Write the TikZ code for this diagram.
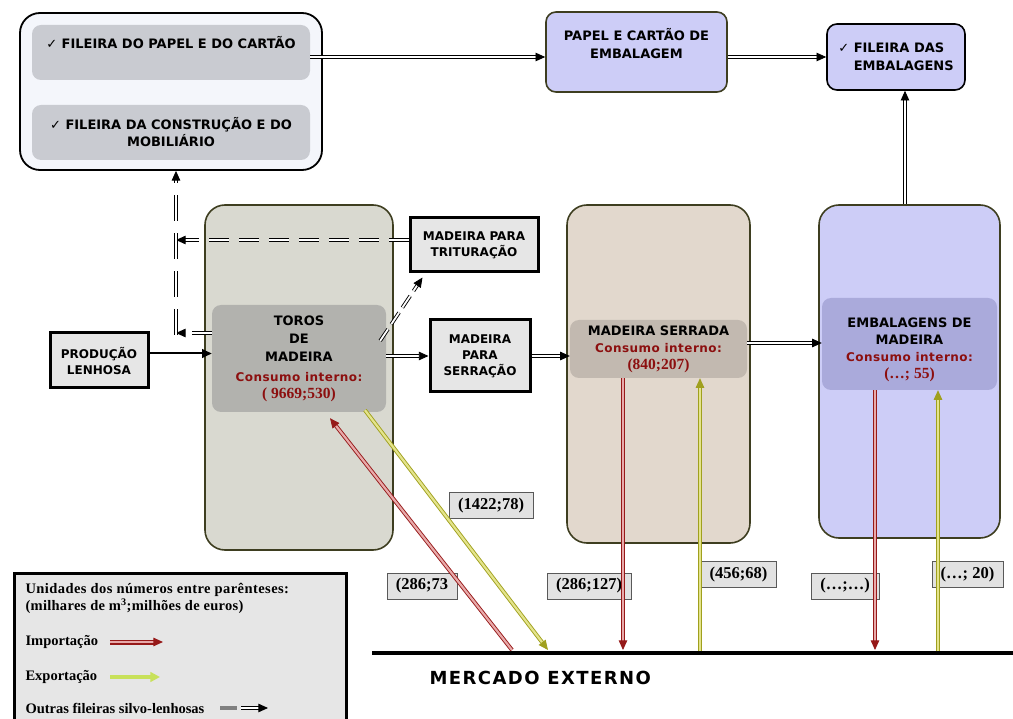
\documentclass[tikz,border=0pt]{standalone}
\usepackage{fontspec}
\setmainfont{Liberation Serif}
\setsansfont{DejaVu Sans}
\newfontfamily\chkfont{DejaVu Sans}
\usetikzlibrary{arrows.meta,positioning}
\definecolor{olivedark}{RGB}{62,62,32}
\definecolor{torosfill}{RGB}{217,217,208}
\definecolor{torosin}{RGB}{178,178,174}
\definecolor{serfill}{RGB}{226,216,205}
\definecolor{serin}{RGB}{194,185,176}
\definecolor{embfill}{RGB}{205,205,247}
\definecolor{embin}{RGB}{170,170,219}
\definecolor{filfill}{RGB}{244,246,251}
\definecolor{filin}{RGB}{201,203,209}
\definecolor{boxgray}{RGB}{230,230,230}
\definecolor{numgray}{RGB}{226,226,226}
\definecolor{impred}{RGB}{150,25,25}
\definecolor{imppink}{RGB}{232,170,170}
\definecolor{expol}{RGB}{160,160,30}
\definecolor{expyel}{RGB}{228,228,140}
\definecolor{explime}{RGB}{200,225,90}
\definecolor{expgreen}{RGB}{150,200,40}
\definecolor{txtred}{RGB}{140,15,15}
\newcommand{\chkmark}{{\chkfont\mdseries ✓}}
\newcommand{\consumo}{{\color{txtred}\fontsize{12}{16}\selectfont\addfontfeature{LetterSpace=4}Consumo interno:}}
\newcommand{\valor}[1]{{\color{txtred}\rmfamily\fontsize{15.5}{16}\selectfont #1}}
\tikzset{
  >={Triangle[length=3.4mm,width=3mm]},
  boxfont/.style={font=\sffamily\bfseries\fontsize{13}{18}\selectfont},
  column/.style={draw=olivedark,fill=#1,rounded corners=20pt,line width=1.6pt},
  inbox/.style={fill=#1,rounded corners=9pt,align=center,boxfont},
  graybox/.style={draw=black,fill=boxgray,line width=3pt,align=center,
    font=\sffamily\bfseries\fontsize{12}{17}\selectfont},
  lilac/.style={draw=#1,fill=embfill,rounded corners=10pt,line width=1.6pt,boxfont},
  num/.style={draw=gray!70!black,fill=numgray,minimum height=26pt,inner xsep=9pt,
    font=\bfseries\fontsize{16.5}{16.5}\selectfont},
  flow/.style={->,draw=black,double=white,double distance=1.8pt,line width=0.9pt},
  solidflow/.style={->,draw=black,line width=2pt},
  other/.style={flow,dash pattern=on 20pt off 10pt},
  imp/.style={-{Triangle[length=3.4mm,width=3mm]},draw=impred,double=imppink,double distance=2.2pt,line width=0.9pt},
  exp/.style={-{Triangle[length=3.4mm,width=3mm]},draw=expol,double=expyel,double distance=2.2pt,line width=0.9pt},
  legend/.style={anchor=west,font=\bfseries\fontsize{14.5}{16}\selectfont},
}

\begin{document}
\begin{tikzpicture}[x=1pt,y=-1pt]
  \useasboundingbox (0,0) rectangle (1013,719);

  % top row
  \node[draw=black,fill=filfill,rounded corners=20pt,line width=1.8pt,minimum width=302,minimum height=157] (fil big) at (171,91.5) {};
  \node[inbox=filin,minimum width=278,minimum height=55,text depth=21pt] (fil pap) at (171,52.5) {\chkmark\ FILEIRA DO PAPEL E DO CARTÃO};
  \node[inbox=filin,minimum width=278,minimum height=55] (fil con) at (171,132.5) {\chkmark\ FILEIRA DA CONSTRUÇÃO E DO\\[-1pt]MOBILIÁRIO};
  \node[lilac=olivedark,align=center,minimum width=181,minimum height=80,text depth=18pt] (papel) at (636.5,52) {PAPEL E CARTÃO DE\\EMBALAGEM};
  \node[lilac=black,align=left,minimum width=138,minimum height=66] (fil emb) at (896,57) {\chkmark\ FILEIRA DAS\\\phantom{\chkmark\ }EMBALAGENS};

  % columns
  \node[column=torosfill,minimum width=188,minimum height=345] (toros col) at (299,377.5) {};
  \node[column=serfill,minimum width=183,minimum height=338] (serr col) at (658.5,374) {};
  \node[column=embfill,minimum width=181,minimum height=333] (emb col) at (909.5,371.5) {};
  \node[inbox=torosin,minimum width=174,minimum height=107,inner sep=1pt] (toros in) at (299,358.5)
    {TOROS\\DE\\MADEIRA\\[2pt]\consumo\\[-1pt]\valor{( 9669;530)}};
  \node[inbox=serin,minimum width=177,minimum height=58,inner sep=1pt] (serr in) at (658.5,349)
    {MADEIRA SERRADA\\[-1pt]\consumo\\[-1pt]\valor{(840;207)}};
  \node[inbox=embin,minimum width=175,minimum height=92,inner sep=1pt] (emb in) at (909.5,344)
    {\rule{0pt}{22pt}EMBALAGENS DE\\[-1pt]MADEIRA\\[-1pt]\consumo\\[-1pt]\valor{(…; 55)}};

  % side boxes
  \node[graybox,minimum width=128,minimum height=54] (trit) at (474,245) {MADEIRA PARA\\[-1pt]TRITURAÇÃO};
  \node[graybox,minimum width=98,minimum height=55] (prod) at (99,360.5) {PRODUÇÃO\\[-1pt]LENHOSA};
  \node[graybox,minimum width=100,minimum height=72] (serrac) at (480,356) {MADEIRA\\[-1pt]PARA\\[-1pt]SERRAÇÃO};

  % flows
  \draw[flow] ([yshift=-4.5pt]fil pap.east) -- ([yshift=-5pt]papel.west);
  \draw[flow] ([yshift=-5pt]papel.east) -- (fil emb.west);
  \draw[flow] ([xshift=-4.5pt]emb col.north) -- ([xshift=9pt]fil emb.south);
  \draw[solidflow] ([yshift=7pt]prod.east) -- ([yshift=5pt]toros in.west);
  \draw[flow] (toros in.east |- serrac.west) -- (serrac.west);
  \draw[flow] (serrac.east) -- (serrac.east -| serr in.west);
  \draw[flow] ([yshift=6pt]serr in.east) -- ([yshift=1pt]emb in.west);

  % outras fileiras
  \coordinate (dash top) at (176,240);
  \coordinate (dash low) at (176,333);
  \draw[other] ([yshift=5pt]trit.west) -- (dash top);
  \draw[other] ([yshift=25.5pt]toros in.west) -- (dash low);
  \draw[other,dash pattern=on 26pt off 12pt] ([yshift=-2pt]dash low) -- ([xshift=5pt]fil big.south);
  \draw[other,dash pattern=on 14pt off 6pt] ([xshift=-6pt,yshift=-36pt]toros in.north east) -- ([xshift=14pt,yshift=-4pt]trit.south west);

  % mercado externo
  \coordinate (mkt w) at (372,653);
  \coordinate (mkt e) at (1013,653);
  \draw[line width=4.5pt] (mkt w) -- (mkt e);
  \node[anchor=west,font=\sffamily\bfseries\fontsize{18}{18}\selectfont\addfontfeature{LetterSpace=8}] (mkt) at (426,678) {MERCADO EXTERNO};

  % values
  \foreach \n/\x/\y/\t in {a/491/505.5/(1422;78),b/422/586/(286;73,c/589/586/(286;127),
      d/738.5/574.5/(456;68),e/845/586/(…;…),f/967.5/574.5/(…; 20)}{
    \node[num] (lab \n) at (\x,\y) {\t};
  }

  % import / export
  \coordinate (m1) at (512,650);
  \coordinate (m2) at (548,650);
  \coordinate (m3) at (623,650);
  \coordinate (m4) at (700,651);
  \coordinate (m5) at (875,650);
  \coordinate (m6) at (938,651);
  \draw[imp] (m1) -- ([xshift=31pt,yshift=-6pt]toros in.south);
  \draw[exp] ([xshift=66pt,yshift=2pt]toros in.south) -- (m2);
  \draw[imp] ([xshift=-35.5pt]serr in.south) -- (m3);
  \draw[exp] (m4) -- ([xshift=41.5pt]serr in.south);
  \draw[imp] ([xshift=-34.5pt]emb in.south) -- (m5);
  \draw[exp] (m6) -- ([xshift=28.5pt]emb in.south);

  % legend
  \node[draw=black,fill=boxgray,line width=2.5pt,anchor=north west,minimum width=332,minimum height=160] (leg) at (13,572) {};
  \node[legend] (leg a) at (22,590) {\addfontfeature{LetterSpace=3}Unidades dos números entre parênteses:};
  \node[legend] (leg b) at (22,606) {\addfontfeature{LetterSpace=2}(milhares de m\textsuperscript{3};milhões de euros)};
  \node[legend] (leg imp) at (22,642) {Importação};
  \node[legend] (leg exp) at (22,677) {Exportação};
  \node[legend] (leg out) at (22,708) {Outras fileiras silvo-lenhosas};
  \coordinate (li a) at (110,642);
  \coordinate (li b) at (163,642);
  \coordinate (le a) at (110,677);
  \coordinate (le b) at (160,677);
  \draw[imp,double distance=2.6pt,line width=1.2pt] (li a) -- (li b);
  \draw[-{Triangle[length=3.4mm,width=3.4mm]},line width=4.5pt,draw=explime,fill=expgreen] (le a) -- (le b);
  \coordinate (lo a) at (220,708);
  \coordinate (lo b) at (237,708);
  \coordinate (lo c) at (241,708);
  \coordinate (lo d) at (268,708);
  \draw[line width=3.5pt,gray] (lo a) -- (lo b);
  \draw[flow] (lo c) -- (lo d);
\end{tikzpicture}
\end{document}
